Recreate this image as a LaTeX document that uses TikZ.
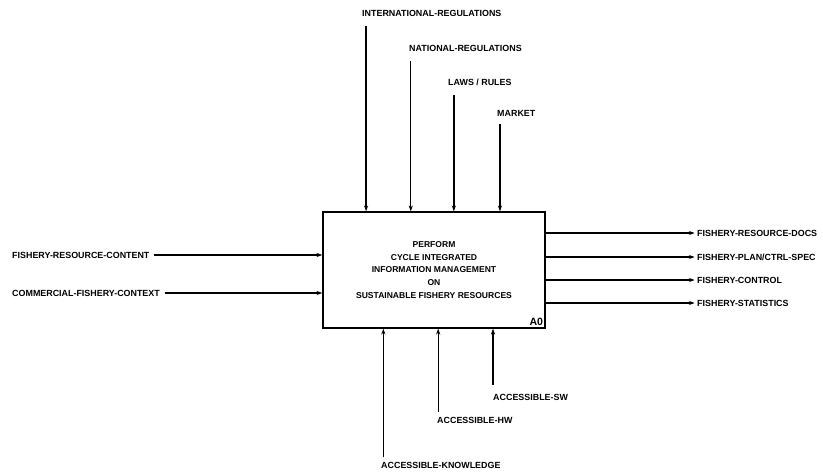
\documentclass[tikz,border=0pt]{standalone}
\usepackage{fontspec}
\setmainfont{Liberation Sans}
\usetikzlibrary{arrows.meta,positioning}

\begin{document}
\begin{tikzpicture}[x=0.03cm, y=-0.03cm,
        act/.style={rectangle, draw, line width=1.1pt, minimum width=6.66cm,
                    minimum height=3.48cm, align=center,
                    font=\fontsize{7.3}{11}\selectfont\bfseries},
        lbl/.style={font=\fontsize{7.6}{8}\selectfont\bfseries, inner sep=0pt},
        arr/.style={-{Stealth[length=5pt, width=3.5pt]}, line width=1.1pt}
      ]
        \useasboundingbox (0,0) rectangle (823,473);

        % activity box
        \node[act] (box) at (434,270)
          {PERFORM\\CYCLE INTEGRATED\\INFORMATION MANAGEMENT\\ON\\SUSTAINABLE FISHERY RESOURCES};
        \node[font=\fontsize{9}{10}\selectfont\bfseries, anchor=south east, inner sep=2pt]
          (nodeid) at (box.south east) {A0};

        % controls
        \node[lbl, anchor=south west] (intreg) at (362,17)  {INTERNATIONAL-REGULATIONS};
        \node[lbl, anchor=south west] (natreg) at (409,52)  {NATIONAL-REGULATIONS};
        \node[lbl, anchor=south west] (laws)   at (448,86)  {LAWS / RULES};
        \node[lbl, anchor=south west] (market) at (497,117) {MARKET};

        \draw[arr] ([xshift=3.5pt,yshift=-8pt]intreg.south west) -- ([xshift=3.5pt]intreg.south west |- box.north);
        \draw[arr] ([xshift=1.5pt,yshift=-8pt]natreg.south west) -- ([xshift=1.5pt]natreg.south west |- box.north);
        \draw[arr] ([xshift=5pt,yshift=-8pt]laws.south west)     -- ([xshift=5pt]laws.south west |- box.north);
        \draw[arr] ([xshift=2.5pt,yshift=-6pt]market.south west) -- ([xshift=2.5pt]market.south west |- box.north);

        % inputs
        \node[lbl, anchor=west] (rescont) at (12,255) {FISHERY-RESOURCE-CONTENT};
        \node[lbl, anchor=west] (commctx) at (12,293) {COMMERCIAL-FISHERY-CONTEXT};

        \draw[arr] ([xshift=4pt]rescont.east) -- (rescont.east -| box.west);
        \draw[arr] ([xshift=4pt]commctx.east) -- (commctx.east -| box.west);

        % outputs
        \node[lbl, anchor=west] (resdocs) at (697,233) {FISHERY-RESOURCE-DOCS};
        \node[lbl, anchor=west] (planspec) at (697,257) {FISHERY-PLAN/CTRL-SPEC};
        \node[lbl, anchor=west] (control) at (697,280) {FISHERY-CONTROL};
        \node[lbl, anchor=west] (stats)   at (697,303) {FISHERY-STATISTICS};

        \draw[arr] (resdocs.west -| box.east)  -- ([xshift=-2pt]resdocs.west);
        \draw[arr] (planspec.west -| box.east) -- ([xshift=-2pt]planspec.west);
        \draw[arr] (control.west -| box.east)  -- ([xshift=-2pt]control.west);
        \draw[arr] (stats.west -| box.east)    -- ([xshift=-2pt]stats.west);

        % mechanisms
        \node[lbl, anchor=north west] (know) at (381,462) {ACCESSIBLE-KNOWLEDGE};
        \node[lbl, anchor=north west] (hw)   at (437,417) {ACCESSIBLE-HW};
        \node[lbl, anchor=north west] (sw)   at (493,394) {ACCESSIBLE-SW};

        \draw[arr] ([xshift=2pt,yshift=4pt]know.north west) -- ([xshift=2pt]know.north west |- box.south);
        \draw[arr] ([xshift=1pt,yshift=4pt]hw.north west)   -- ([xshift=1pt]hw.north west |- box.south);
        \draw[arr] ([xshift=0pt,yshift=8pt]sw.north west)   -- ([xshift=0pt]sw.north west |- box.south);
      \end{tikzpicture}
\end{document}
